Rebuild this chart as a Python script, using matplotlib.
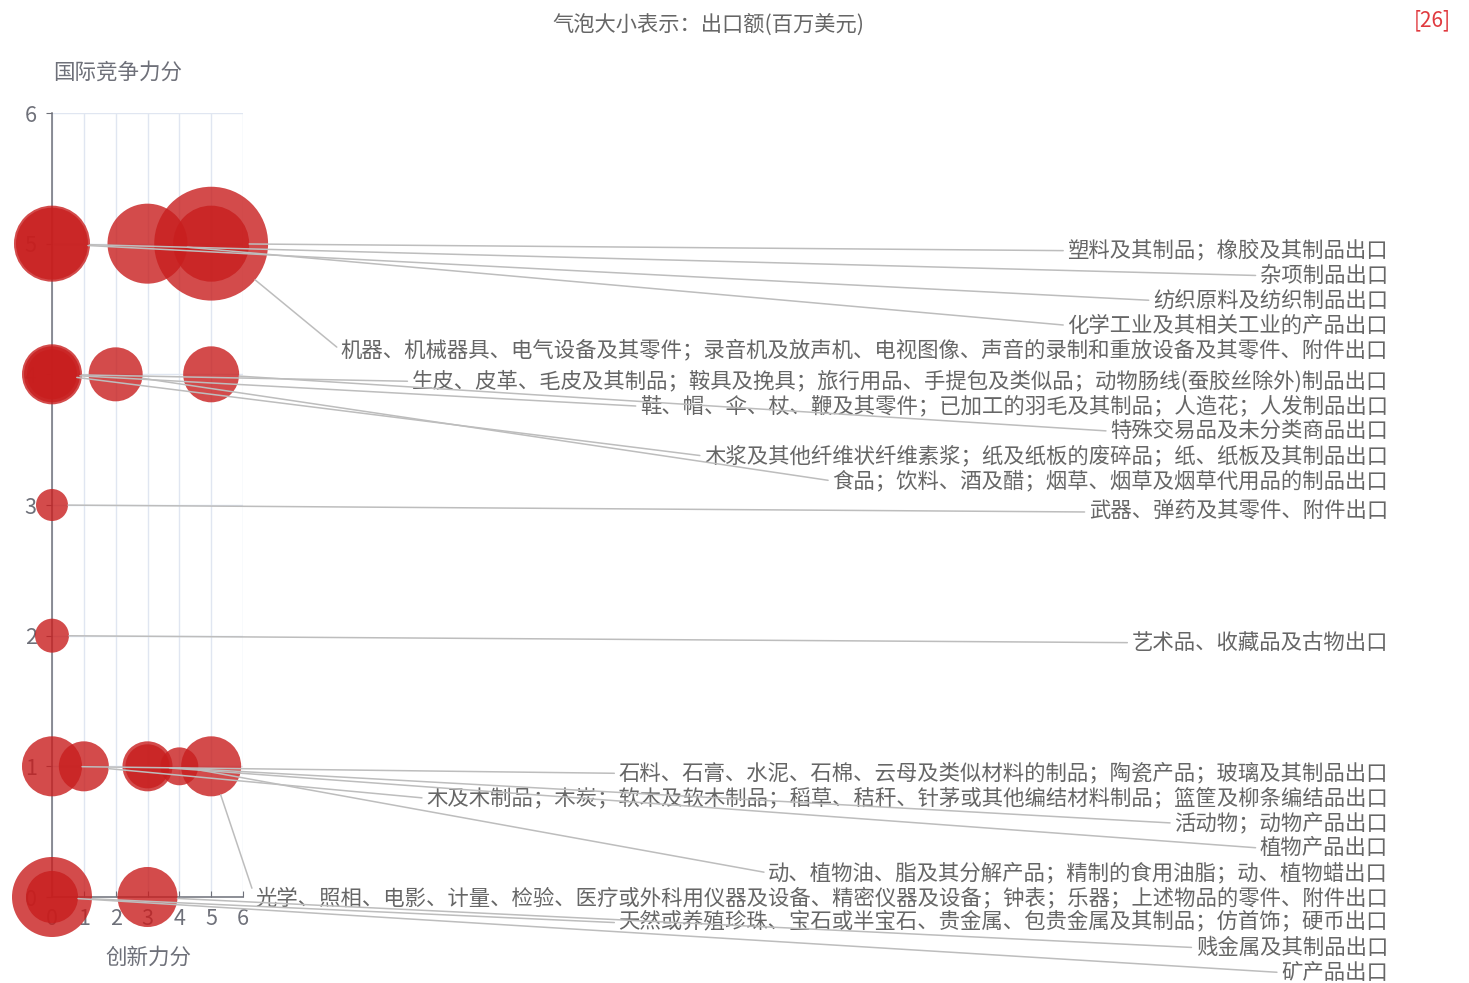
import numpy as np
import matplotlib.pyplot as plt

plt.rcParams['font.family'] = ['Noto Sans CJK SC', 'DejaVu Sans']

# 商品类别
names = [
    "塑料及其制品；橡胶及其制品出口",
    "杂项制品出口",
    "纺织原料及纺织制品出口",
    "化学工业及其相关工业的产品出口",
    "机器、机械器具、电气设备及其零件；录音机及放声机、电视图像、声音的录制和重放设备及其零件、附件出口",
    "生皮、皮革、毛皮及其制品；鞍具及挽具；旅行用品、手提包及类似品；动物肠线(蚕胶丝除外)制品出口",
    "鞋、帽、伞、杖、鞭及其零件；已加工的羽毛及其制品；人造花；人发制品出口",
    "特殊交易品及未分类商品出口",
    "木浆及其他纤维状纤维素浆；纸及纸板的废碎品；纸、纸板及其制品出口",
    "食品；饮料、酒及醋；烟草、烟草及烟草代用品的制品出口",
    "武器、弹药及其零件、附件出口",
    "艺术品、收藏品及古物出口",
    "石料、石膏、水泥、石棉、云母及类似材料的制品；陶瓷产品；玻璃及其制品出口",
    "木及木制品；木炭；软木及软木制品；稻草、秸秆、针茅或其他编结材料制品；篮筐及柳条编结品出口",
    "活动物；动物产品出口",
    "植物产品出口",
    "动、植物油、脂及其分解产品；精制的食用油脂；动、植物蜡出口",
    "光学、照相、电影、计量、检验、医疗或外科用仪器及设备、精密仪器及设备；钟表；乐器；上述物品的零件、附件出口",
    "天然或养殖珍珠、宝石或半宝石、贵金属、包贵金属及其制品；仿首饰；硬币出口",
    "贱金属及其制品出口",
    "矿产品出口",
]
# 创新力分
innov = [5, 0, 0, 3, 5,
         0, 0, 5, 0, 2,
         0,
         0,
         0, 1, 3, 3, 4, 5,
         0, 3, 0]
# 国际竞争力分
compete = [5, 5, 5, 5, 5,
           4, 4, 4, 4, 4,
           3,
           2,
           1, 1, 1, 1, 1, 1,
           0, 0, 0]
# 出口额(百万美元)
export = [446, 446, 400, 494, 1000,
          278, 242, 242, 193, 225,
          79,
          89,
          278, 193, 193, 150, 111, 278,
          494, 278, 209]

W, H = 1469, 983
fig = plt.figure(figsize=(W / 100, H / 100), dpi=100)
ax = fig.add_axes([52 / W, 1 - 897 / H, 191 / W, 784 / H])
ax.set_xlim(0, 6)
ax.set_ylim(0, 6)

axis_col = '#6E7079'
for s in ['top', 'right']:
    ax.spines[s].set_visible(False)
for s in ['left', 'bottom']:
    ax.spines[s].set_color(axis_col)
    ax.spines[s].set_linewidth(1.1)
ax.set_xticks(range(7))
ax.set_yticks(range(7))
ax.tick_params(axis='x', direction='in', length=4, colors=axis_col, labelsize=15.5, pad=8)
ax.tick_params(axis='y', direction='out', length=4, colors=axis_col, labelsize=15.5, pad=7)
ax.grid(True, color='#E0E6F1', lw=1.0)
ax.set_axisbelow(True)

# bubble radius in pixels ~ sqrt(export)
r_px = 1.8 * np.sqrt(np.array(export, dtype=float))
r_pt = r_px * 0.72
ax.scatter(innov, compete, s=(2 * r_pt) ** 2, color='#c81e1e', alpha=0.8,
           linewidths=0, zorder=3, clip_on=False)

# label layout: stack down from the bubble row, min gap 25 px
order = sorted(range(len(names)), key=lambda i: (-compete[i], i))
prev = -1e9
label_y = {}
for i in order:
    by = H - ax.transData.transform((innov[i], compete[i]))[1]
    ly = max(by + 7, prev + 24.9)
    label_y[i] = ly
    prev = ly

for i in range(len(names)):
    ax.annotate(names[i], xy=(innov[i], compete[i]), xycoords='data',
                xytext=(1388, H - label_y[i]), textcoords='figure pixels',
                ha='right', va='center', fontsize=15.4, color='#666666',
                annotation_clip=False, zorder=4,
                arrowprops=dict(arrowstyle='-', color='#bdbdbd', lw=1.1,
                                shrinkA=1, shrinkB=r_pt[i], relpos=(0, 0.5)))

fig.text(708 / W, 1 - 25 / H, "气泡大小表示：出口额(百万美元)", ha='center', va='center',
         fontsize=15.3, color='#666666')
fig.text(1414 / W, 1 - 20 / H, "[26]", ha='left', va='center', fontsize=15, color='#e0393e')
fig.text(53 / W, 1 - 73 / H, "国际竞争力分", ha='left', va='center', fontsize=15.5, color=axis_col)
fig.text(148 / W, 1 - 958 / H, "创新力分", ha='center', va='center', fontsize=15.5, color=axis_col)

fig.savefig('out.png', dpi=100, facecolor='white')
